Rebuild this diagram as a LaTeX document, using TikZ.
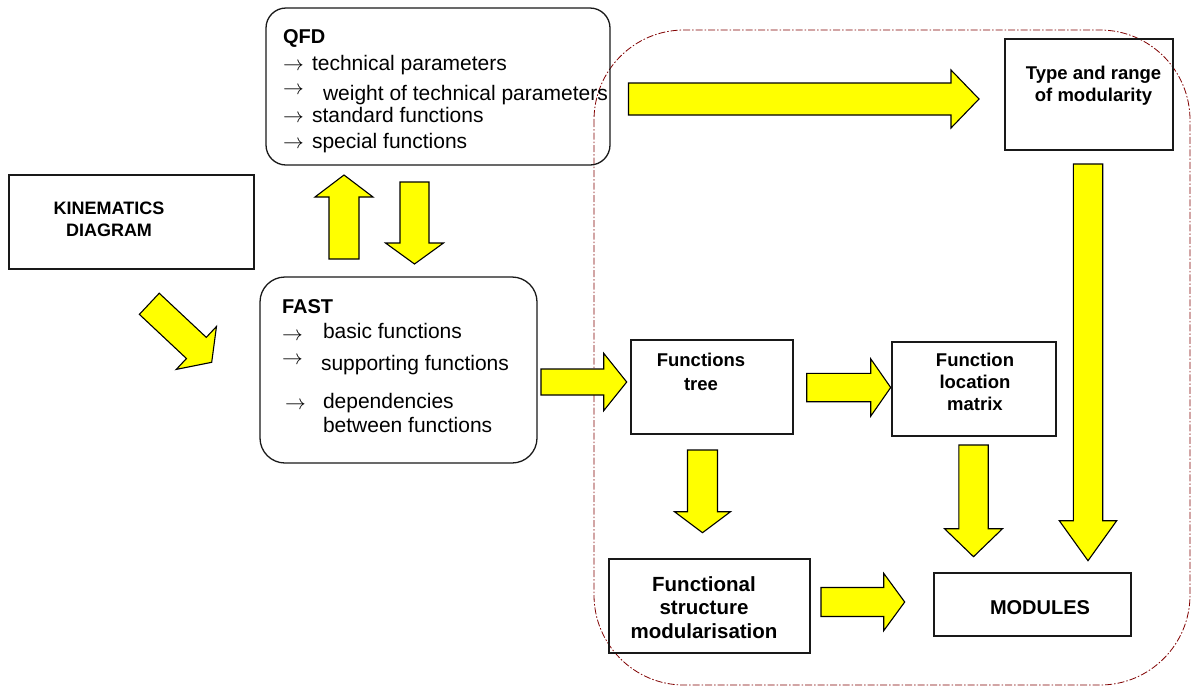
\documentclass[tikz,border=0pt]{standalone}
\usepackage{fontspec}
\setmainfont{Liberation Sans}
\usetikzlibrary{calc}
\definecolor{dashred}{RGB}{128,0,0}
\definecolor{ayellow}{RGB}{255,255,0}
\newcommand{\blkarrow}[5]{%
  \coordinate (bh) at ($(#2)!#5!(#1)$);
  \filldraw[blockarrow] ($(#1)!#3!90:(#2)$) -- ($(bh)!#3!90:(#2)$) -- ($(bh)!#4!90:(#2)$) -- (#2)
    -- ($(bh)!#4!-90:(#2)$) -- ($(bh)!#3!-90:(#2)$) -- ($(#1)!#3!-90:(#2)$) -- cycle;
}
\begin{document}
\begin{tikzpicture}[x=1pt,y=-1pt,
  box/.style={draw=black!90, line width=1.3pt, inner sep=0pt, outer sep=0pt},
  rbox/.style={box, rounded corners=#1},
  blockarrow/.style={fill=ayellow, draw=black, line width=1.1pt, line join=miter},
  region/.style={draw=dashred, line width=0.8pt, dash pattern=on 7pt off 2pt on 1.5pt off 2pt},
  lbl/.style={inner sep=0pt, outer sep=0pt, anchor=base, align=center},
  txt/.style={inner sep=0pt, outer sep=0pt, anchor=base west, font=\fontsize{21}{25}\selectfont},
  arr/.style={inner sep=0pt, outer sep=0pt, anchor=base west, font=\fontsize{20}{24}\selectfont},
  head/.style={inner sep=0pt, outer sep=0pt, anchor=base west, font=\bfseries\fontsize{20}{24}\selectfont}
]
\useasboundingbox (0,0) rectangle (1192,686);

% dashed region
\draw[region, rounded corners=90] (594,30) rectangle (1190,685);

% boxes
\node[rbox=20, minimum width=344pt, minimum height=157pt] (qfd) at (438,86.5) {};
\node[rbox=25, minimum width=277pt, minimum height=186pt] (fast) at (398.5,370) {};
\node[box, minimum width=245pt, minimum height=94pt] (kin) at (131.5,222) {};
\node[box, minimum width=168pt, minimum height=111pt] (type) at (1089,94.5) {};
\node[box, minimum width=162pt, minimum height=94pt] (tree) at (712,387) {};
\node[box, minimum width=164pt, minimum height=94pt] (flm) at (974,389) {};
\node[box, minimum width=201pt, minimum height=94pt] (func) at (709.5,606) {};
\node[box, minimum width=197pt, minimum height=63pt] (modules) at (1032.5,604.5) {};

% QFD text
\node[head] (qfdh) at (283,43) {QFD};
\node[arr] (qa1) at (283,70) {$\rightarrow$};
\node[txt] (qt1) at (312,70) {technical parameters};
\node[arr] (qa2) at (283,94.5) {$\rightarrow$};
\node[txt] (qt2) at (323,100) {weight of technical parameters};
\node[arr] (qa3) at (283,122) {$\rightarrow$};
\node[txt] (qt3) at (312,122) {standard functions};
\node[arr] (qa4) at (283,148) {$\rightarrow$};
\node[txt] (qt4) at (312,148) {special functions};

% FAST text
\node[head] (fasth) at (282,313) {FAST};
\node[arr] (fa1) at (282,340) {$\rightarrow$};
\node[txt] (ft1) at (323,338) {basic functions};
\node[arr] (fa2) at (282,364) {$\rightarrow$};
\node[txt] (ft2) at (321,370) {supporting functions};
\node[arr] (fa3) at (285,409.5) {$\rightarrow$};
\node[txt] (ft3) at (323,408) {dependencies};
\node[txt] (ft4) at (323,432) {between functions};

% box labels (anchor = baseline of last line)
\node[lbl, font=\bfseries\fontsize{18}{22}\selectfont] (kint) at (109,236) {KINEMATICS\\DIAGRAM};
\node[lbl, font=\bfseries\fontsize{18.5}{22.7}\selectfont] (typet) at (1093.5,101.7) {Type and range\\of modularity};
\node[lbl, font=\bfseries\fontsize{18.5}{23.3}\selectfont] (treet) at (701,390) {Functions\\tree};
\node[lbl, font=\bfseries\fontsize{18.5}{21.7}\selectfont] (flmt) at (975,410) {Function\\location\\matrix};
\node[lbl, font=\bfseries\fontsize{20.5}{23.6}\selectfont] (funct) at (704,638.3) {Functional\\structure\\modularisation};
\node[lbl, font=\bfseries\fontsize{20}{24}\selectfont] (modt) at (1040,614) {MODULES};

% arrow end coordinates
\coordinate (a1s) at (149.3,303.8); \coordinate (a1e) at (211.7,362.3);
\coordinate (a2s) at (344,259);     \coordinate (a2e) at (344,175);
\coordinate (a3s) at (414.5,182);   \coordinate (a3e) at (414.5,264);
\coordinate (a4s) at (628.5,99);    \coordinate (a4e) at (979,99);
\coordinate (a5s) at (541,382);     \coordinate (a5e) at (626.7,382);
\coordinate (a6s) at (806.7,387.5); \coordinate (a6e) at (890.7,387.5);
\coordinate (a7s) at (1088,164);    \coordinate (a7e) at (1088,560.7);
\coordinate (a8s) at (973.5,445);   \coordinate (a8e) at (973.5,556.7);
\coordinate (a9s) at (702.5,450);   \coordinate (a9e) at (702.5,532.7);
\coordinate (a10s) at (821,602);    \coordinate (a10e) at (904.7,602);

\blkarrow{a1s}{a1e}{14.5pt}{29.4pt}{21pt}
\blkarrow{a2s}{a2e}{15pt}{29pt}{22pt}
\blkarrow{a3s}{a3e}{14.5pt}{29pt}{21pt}
\blkarrow{a4s}{a4e}{16pt}{29pt}{28pt}
\blkarrow{a5s}{a5e}{13pt}{28.7pt}{23pt}
\blkarrow{a6s}{a6e}{14.2pt}{28.7pt}{20pt}
\blkarrow{a7s}{a7e}{14.7pt}{28.7pt}{40pt}
\blkarrow{a8s}{a8e}{14.7pt}{29pt}{28pt}
\blkarrow{a9s}{a9e}{15pt}{28pt}{21pt}
\blkarrow{a10s}{a10e}{14.5pt}{28.7pt}{21pt}
\end{tikzpicture}
\end{document}
